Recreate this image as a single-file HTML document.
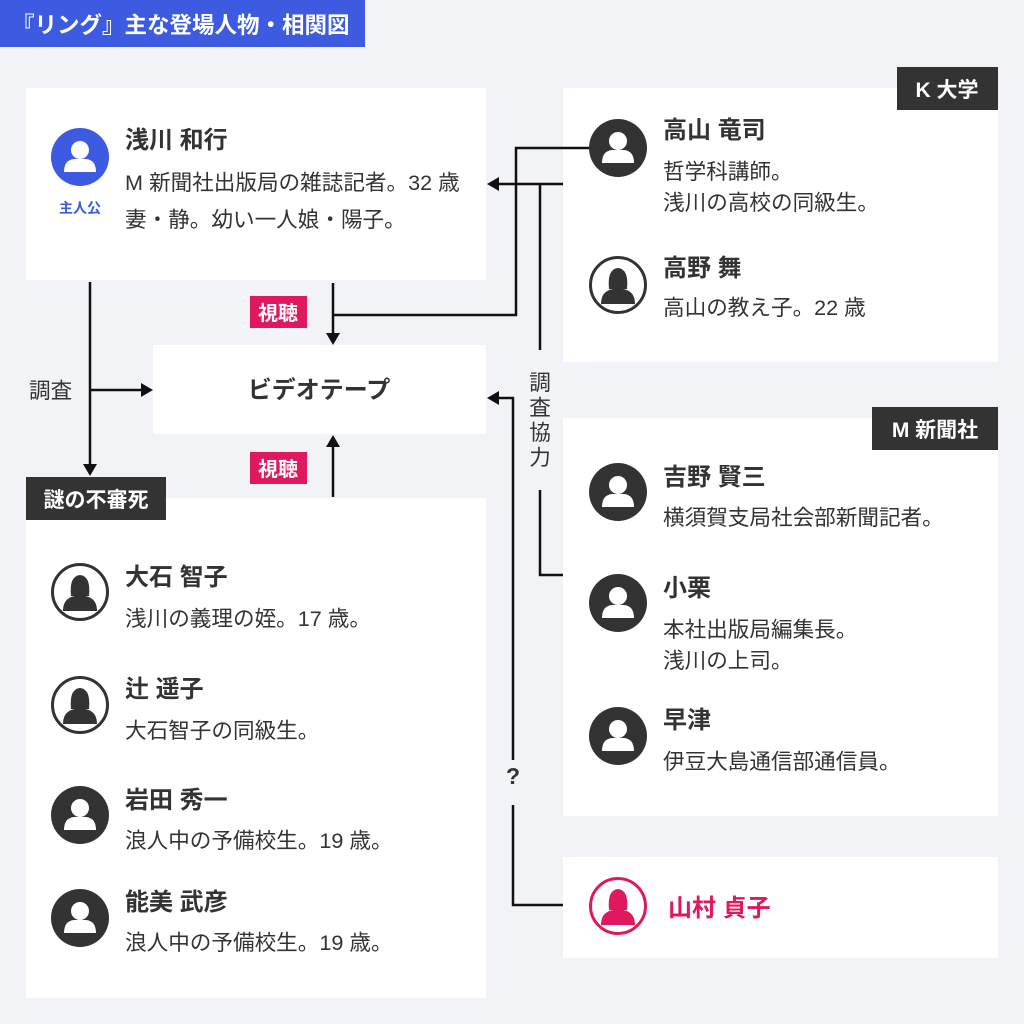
<!DOCTYPE html>
<html><head><meta charset="utf-8"><style>
html,body{margin:0;padding:0;background:#f2f3f7;}
svg{display:block;font-family:"Liberation Sans","Noto Sans CJK JP",sans-serif;}
.n{font-size:24px;font-weight:bold;fill:#333;}
.d{font-size:21.6px;fill:#333;}
</style></head><body>
<svg width="1024" height="1024" viewBox="0 0 1024 1024" xmlns="http://www.w3.org/2000/svg">
<defs>
<g id="m"><circle r="29" fill="#333"/><circle cy="-7" r="9" fill="#fff"/><path d="M-16 15 Q-16 3 -6 2 L6 2 Q16 3 16 15 Z" fill="#fff"/></g>
<g id="f"><circle r="27.5" fill="#fff" stroke="#333" stroke-width="3"/><path d="M-9 4 Q-11 -16 0 -17 Q11 -16 9 4 Z" fill="#333"/><path d="M-17 19 Q-17 6 -5 4 L5 4 Q17 6 17 19 Z" fill="#333"/></g>
<g id="fp"><circle r="27.5" fill="#fff" stroke="#e0185e" stroke-width="3"/><path d="M-9 4 Q-11 -16 0 -17 Q11 -16 9 4 Z" fill="#e0185e"/><path d="M-17 19 Q-17 6 -5 4 L5 4 Q17 6 17 19 Z" fill="#e0185e"/></g>
</defs>
<rect width="1024" height="1024" fill="#f2f3f7"/>
<rect x="0" y="0" width="365" height="47" fill="#3d5be0"/>
<text x="12" y="33" font-size="22.5" font-weight="bold" fill="#fff">『リング』主な登場人物・相関図</text>
<rect x="26" y="88" width="460" height="192" fill="#fff"/>
<rect x="153" y="345" width="333" height="89" fill="#fff"/>
<rect x="26" y="498" width="460" height="500" fill="#fff"/>
<rect x="563" y="88" width="435" height="274" fill="#fff"/>
<rect x="563" y="418" width="435" height="398" fill="#fff"/>
<rect x="563" y="857" width="435" height="101" fill="#fff"/>
<rect x="897" y="67" width="101" height="43" fill="#333"/>
<text x="947" y="97" font-size="21" font-weight="bold" fill="#fff" text-anchor="middle">K 大学</text>
<rect x="872" y="407" width="126" height="43" fill="#333"/>
<text x="935" y="437" font-size="21" font-weight="bold" fill="#fff" text-anchor="middle">M 新聞社</text>
<rect x="26" y="477" width="140" height="43" fill="#333"/>
<text x="96" y="507" font-size="21" font-weight="bold" fill="#fff" text-anchor="middle">謎の不審死</text>
<rect x="250" y="296" width="57" height="32" fill="#e0185e"/>
<text x="278" y="320" font-size="20" font-weight="bold" fill="#fff" text-anchor="middle">視聴</text>
<rect x="250" y="452" width="57" height="32" fill="#e0185e"/>
<text x="278" y="476" font-size="20" font-weight="bold" fill="#fff" text-anchor="middle">視聴</text>
<g stroke="#111" stroke-width="2.5" fill="none">
<path d="M590 148 H516 V315 H333"/>
<path d="M333 283 V335"/>
<path d="M563 184 H497"/>
<path d="M540 184 V350"/>
<path d="M540 490 V575 H563"/>
<path d="M90 282 V466"/>
<path d="M90 390 H143"/>
<path d="M333 497 V445"/>
<path d="M563 905 H513 V805"/>
<path d="M513 760 V398 H497"/>
</g>
<g fill="#111">
<path d="M326 333 L340 333 L333 345 Z"/>
<path d="M499 177 L499 191 L487 184 Z"/>
<path d="M83 464 L97 464 L90 476 Z"/>
<path d="M141 383 L141 397 L153 390 Z"/>
<path d="M326 447 L340 447 L333 435 Z"/>
<path d="M499 391 L499 405 L487 398 Z"/>
</g>
<text x="29" y="398" class="d">調査</text>
<g class="d" text-anchor="middle"><text x="540" y="390">調</text><text x="540" y="415">査</text><text x="540" y="440">協</text><text x="540" y="465">力</text></g>
<text x="513" y="784" font-size="23" font-weight="bold" fill="#333" text-anchor="middle">?</text>
<text x="319" y="398" font-size="24" font-weight="bold" fill="#333" text-anchor="middle">ビデオテープ</text>
<circle cx="80" cy="157" r="29" fill="#3d5be0"/><circle cx="80" cy="150" r="9" fill="#fff"/><path d="M64 172 Q64 160 74 159 L86 159 Q96 160 96 172 Z" fill="#fff"/>
<text x="80" y="213" font-size="14" font-weight="bold" fill="#3d5be0" text-anchor="middle">主人公</text>
<text x="125" y="148" class="n">浅川 和行</text>
<text x="125" y="190" class="d">M 新聞社出版局の雑誌記者。32 歳</text>
<text x="125" y="227" class="d">妻・静。幼い一人娘・陽子。</text>
<use href="#m" x="618" y="148"/>
<text x="663" y="138" class="n">高山 竜司</text>
<text x="663" y="179" class="d">哲学科講師。</text>
<text x="663" y="210" class="d">浅川の高校の同級生。</text>
<use href="#f" x="618" y="285"/>
<text x="663" y="276" class="n">高野 舞</text>
<text x="663" y="315" class="d">高山の教え子。22 歳</text>
<use href="#m" x="618" y="492"/>
<text x="663" y="485" class="n">吉野 賢三</text>
<text x="663" y="525" class="d">横須賀支局社会部新聞記者。</text>
<use href="#m" x="618" y="603"/>
<text x="663" y="596" class="n">小栗</text>
<text x="663" y="637" class="d">本社出版局編集長。</text>
<text x="663" y="668" class="d">浅川の上司。</text>
<use href="#m" x="618" y="736"/>
<text x="663" y="728" class="n">早津</text>
<text x="663" y="769" class="d">伊豆大島通信部通信員。</text>
<use href="#fp" x="618" y="906"/>
<text x="668" y="916" font-size="24" font-weight="bold" fill="#e0185e">山村 貞子</text>
<use href="#f" x="80" y="592"/>
<text x="125" y="585" class="n">大石 智子</text>
<text x="125" y="626" class="d">浅川の義理の姪。17 歳。</text>
<use href="#f" x="80" y="705"/>
<text x="125" y="697" class="n">辻 遥子</text>
<text x="125" y="738" class="d">大石智子の同級生。</text>
<use href="#m" x="80" y="815"/>
<text x="125" y="808" class="n">岩田 秀一</text>
<text x="125" y="848" class="d">浪人中の予備校生。19 歳。</text>
<use href="#m" x="80" y="918"/>
<text x="125" y="910" class="n">能美 武彦</text>
<text x="125" y="950" class="d">浪人中の予備校生。19 歳。</text>
</svg>
</body></html>
